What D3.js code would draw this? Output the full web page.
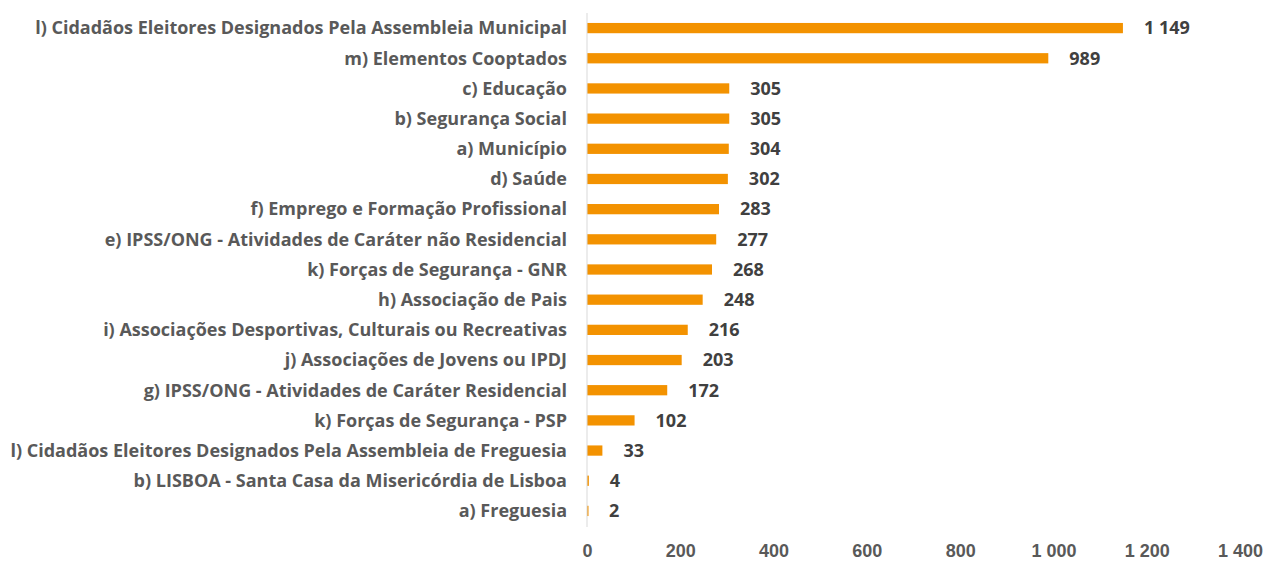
<!DOCTYPE html>
<html>
<head>
<meta charset="utf-8">
<script src="https://cdn.jsdelivr.net/npm/d3@7"></script>
<style>
  html, body { margin: 0; padding: 0; background: #fff; }
  svg { display: block; font-family: "Open Sans", "Lato", sans-serif; }
</style>
</head>
<body>
<svg id="chart" width="1269" height="561"></svg>
<script>
// Membros por entidade representada
const categories = [
  "l) Cidadãos Eleitores Designados Pela Assembleia Municipal",
  "m) Elementos Cooptados",
  "c) Educação",
  "b) Segurança Social",
  "a) Município",
  "d) Saúde",
  "f) Emprego e Formação Profissional",
  "e) IPSS/ONG - Atividades de Caráter não Residencial",
  "k) Forças de Segurança - GNR",
  "h) Associação de Pais",
  "i) Associações Desportivas, Culturais ou Recreativas",
  "j) Associações de Jovens ou IPDJ",
  "g) IPSS/ONG - Atividades de Caráter Residencial",
  "k) Forças de Segurança - PSP",
  "l) Cidadãos Eleitores Designados Pela Assembleia de Freguesia",
  "b) LISBOA - Santa Casa da Misericórdia de Lisboa",
  "a) Freguesia"
];
const values = [1149, 989, 305, 305, 304, 302, 283, 277, 268, 248, 216, 203, 172, 102, 33, 4, 2];
const xTicks = [0, 200, 400, 600, 800, 1000, 1200, 1400];

const svg = d3.select("#chart");
const x0 = 587, x1 = 1240;
const x = d3.scaleLinear().domain([0, 1400]).range([x0, x1]);
const y = d3.scaleBand().domain(categories).range([13, 526]).paddingInner(0.66).paddingOuter(0.33);

// Espaço como separador de milhares
const fmt = v => d3.format(",")(v).replace(/,/g, " ");

// Barras
svg.append("g").selectAll("rect").data(values).join("rect")
  .attr("x", x(0))
  .attr("y", (d, i) => y(categories[i]))
  .attr("width", d => Math.max(x(d) - x(0), 1.5))
  .attr("height", y.bandwidth())
  .attr("fill", "#F39200");

// Eixo vertical
svg.append("line")
  .attr("x1", x0).attr("x2", x0)
  .attr("y1", 13).attr("y2", 527)
  .attr("stroke", "#D9D9D9").attr("stroke-width", 1);

// Rótulos das categorias
svg.append("g").selectAll("text").data(categories).join("text")
  .attr("x", x0 - 20)
  .attr("y", d => y(d) + y.bandwidth() / 2)
  .attr("dy", "0.35em")
  .attr("text-anchor", "end")
  .attr("font-size", 18)
  .attr("font-weight", "bold")
  .attr("fill", "#595959")
  .text(d => d);

// Rótulos de valores
svg.append("g").selectAll("text").data(values).join("text")
  .attr("x", d => x(d) + 21)
  .attr("y", (d, i) => y(categories[i]) + y.bandwidth() / 2)
  .attr("dy", "0.35em")
  .attr("font-size", 18)
  .attr("font-weight", "bold")
  .attr("fill", "#404040")
  .text(d => fmt(d));

// Eixo horizontal (sem linha)
const xAxis = d3.axisBottom(x).tickValues(xTicks).tickFormat(fmt).tickSize(0).tickPadding(0);
const gx = svg.append("g").attr("transform", "translate(0,544)").call(xAxis);
gx.select(".domain").remove();
gx.selectAll("text")
  .attr("font-size", 18)
  .attr("font-weight", "bold")
  .attr("fill", "#595959")
  .attr("font-family", null);
</script>
</body>
</html>
